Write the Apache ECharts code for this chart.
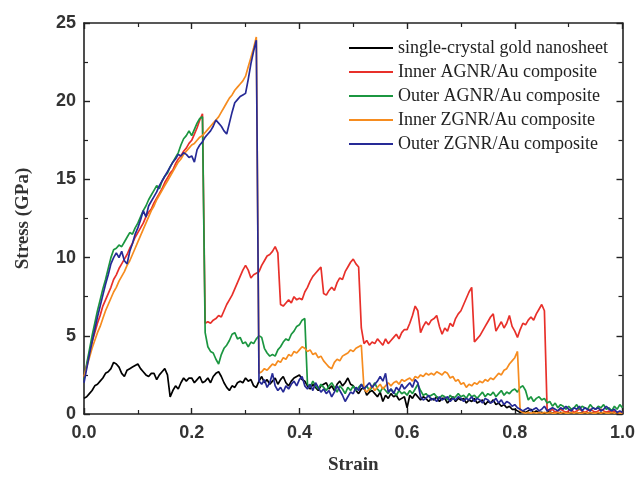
<!DOCTYPE html>
<html>
<head>
<meta charset="utf-8">
<script src="https://cdn.jsdelivr.net/npm/echarts@6/dist/echarts.min.js"></script>
<style>html,body{margin:0;padding:0;background:#fff}#c{width:638px;height:480px}</style>
</head>
<body>
<div id="c"></div>
<script>
const seriesNames = ['single-crystal gold nanosheet','Inner AGNR/Au composite','Outer AGNR/Au composite','Inner ZGNR/Au composite','Outer ZGNR/Au composite'];
const xTicks = [0, 0.2, 0.4, 0.6, 0.8, 1.0];
const yTicks = [0, 5, 10, 15, 20, 25];
const strain = [
0,.005,.01,.015,.02,.025,.03,.035,.04,.045,
.05,.055,.06,.065,.07,.075,.08,.085,.09,.095,
.1,.105,.11,.115,.12,.125,.13,.135,.14,.145,
.15,.155,.16,.165,.17,.175,.18,.185,.19,.195,
.2,.205,.21,.215,.22,.225,.23,.235,.24,.245,
.25,.255,.26,.265,.27,.275,.28,.285,.29,.295,
.3,.305,.31,.315,.32,.325,.33,.335,.34,.345,
.35,.355,.36,.365,.37,.375,.38,.385,.39,.395,
.4,.405,.41,.415,.42,.425,.43,.435,.44,.445,
.45,.455,.46,.465,.47,.475,.48,.485,.49,.495,
.5,.505,.51,.515,.52,.525,.53,.535,.54,.545,
.55,.555,.56,.565,.57,.575,.58,.585,.59,.595,
.6,.605,.61,.615,.62,.625,.63,.635,.64,.645,
.65,.655,.66,.665,.67,.675,.68,.685,.69,.695,
.7,.705,.71,.715,.72,.725,.73,.735,.74,.745,
.75,.755,.76,.765,.77,.775,.78,.785,.79,.795,
.8,.805,.81,.815,.82,.825,.83,.835,.84,.845,
.85,.855,.86,.865,.87,.875,.88,.885,.89,.895,
.9,.905,.91,.915,.92,.925,.93,.935,.94,.945,
.95,.955,.96,.965,.97,.975,.98,.985,.99,.995,
1];
const goldSheet = [
1.0,1.1,1.3,1.5,1.8,1.9,2.1,2.3,2.6,2.7,
2.9,3.3,3.2,3.0,2.6,2.4,2.8,2.9,3.0,3.1,
3.2,2.9,2.7,2.5,2.4,2.6,2.6,2.2,2.5,2.7,
2.9,2.5,1.1,1.5,1.8,1.6,2.0,2.3,2.1,2.3,
2.3,2.0,2.2,2.4,2.0,2.1,2.3,2.0,2.4,2.6,
2.7,2.4,2.0,1.7,1.5,1.8,1.7,2.0,2.1,2.0,
2.3,2.1,2.2,1.8,1.7,2.1,2.4,2.0,2.2,1.9,
2.1,2.3,1.9,2.2,2.4,2.0,1.8,2.1,2.3,2.4,
2.5,2.2,2.1,1.8,1.6,1.9,1.7,1.5,1.8,1.9,
2.0,1.6,1.8,1.5,1.9,2.1,1.8,2.0,2.3,1.9,
1.8,1.5,1.3,1.6,1.7,1.2,1.4,1.5,1.3,1.1,
1.4,0.8,1.2,1.0,1.3,1.1,1.2,0.9,1.0,1.1,
0.4,1.2,1.0,1.3,1.1,0.9,1.1,1.0,0.8,1.0,
0.9,1.1,0.8,1.0,1.0,0.7,0.9,1.1,0.8,1.0,
0.9,1.0,0.7,0.9,0.8,1.0,0.7,0.8,0.9,0.6,
0.8,0.7,0.9,0.6,0.7,0.5,0.6,0.4,0.5,0.3,
0.3,0.2,0.1,0.15,0.1,0.2,0.3,0.1,0.2,0.1,
0.1,0.05,0.1,0.15,0.05,0.1,0.05,0.1,0.05,0.1,
0.05,0.1,0.05,0.1,0.05,0.1,0.05,0.05,0.1,0.05,
0.1,0.05,0.1,0.05,0.1,0.05,0.1,0.05,0.05,0.1,
0.05];
const innerAGNR = [
2.3,3.1,3.9,4.6,5.2,5.8,6.3,6.9,7.3,7.7,
8.1,8.6,8.9,9.3,9.6,9.9,10.2,10.6,10.9,11.3,
11.6,11.9,12.2,12.6,12.9,13.1,13.5,13.8,14.1,14.4,
14.8,15.1,15.4,15.6,16.0,16.3,16.5,16.8,17.0,17.3,
17.5,17.9,18.3,18.8,19.2,5.8,5.9,5.8,6.0,6.1,
6.3,6.2,6.6,7.0,7.3,7.6,8.0,8.4,8.8,9.2,
9.5,9.2,8.7,8.9,9.0,9.1,9.5,9.8,10.1,10.2,
10.4,10.7,10.3,7.0,6.9,7.1,7.3,7.1,7.5,7.3,
7.4,7.3,7.8,8.1,8.5,8.8,9.0,9.2,9.4,7.7,
7.6,7.9,8.1,7.9,8.4,8.7,8.6,9.1,9.4,9.7,
9.9,9.6,9.4,5.5,4.5,4.7,4.4,4.6,4.5,4.8,
4.6,4.4,4.8,4.5,4.7,4.9,5.1,4.8,5.2,5.4,
5.4,5.8,6.3,6.9,6.6,5.2,5.6,5.9,5.7,6.0,
6.1,6.3,5.6,5.1,5.5,5.3,5.8,5.6,6.1,6.4,
6.6,7.0,7.4,7.8,8.1,4.6,4.8,5.0,5.3,5.6,
5.9,6.2,6.4,5.3,5.6,5.9,5.5,5.8,6.3,5.6,
5.3,4.9,5.4,5.8,5.7,6.0,6.2,6.0,6.4,6.7,
7.0,6.6,0.3,0.2,0.3,0.1,0.2,0.3,0.2,0.1,
0.2,0.3,0.1,0.2,0.3,0.2,0.1,0.2,0.3,0.2,
0.1,0.2,0.3,0.2,0.1,0.2,0.1,0.2,0.1,0.1,
0.1];
const outerAGNR = [
2.2,3.2,4.1,5.0,5.8,6.6,7.3,8.0,8.6,9.3,
10.0,10.5,10.6,10.8,10.7,11.0,11.3,11.6,11.5,11.9,
12.2,12.6,13.0,13.3,13.7,14.0,14.3,14.6,14.4,14.9,
15.2,15.4,15.8,16.1,16.4,16.7,17.2,17.6,17.8,18.1,
17.8,18.2,18.6,18.9,19.0,5.2,4.3,4.0,3.9,3.5,
3.2,3.8,4.2,4.4,4.7,5.1,5.2,4.8,4.9,4.5,
4.6,4.3,4.6,4.5,4.8,5.0,4.9,4.2,3.9,3.7,
3.8,3.7,4.1,4.3,4.6,4.8,4.7,5.1,5.3,5.6,
5.7,6.0,6.1,1.9,1.7,2.1,1.8,1.6,1.9,1.7,
1.5,1.8,2.0,1.7,1.4,1.8,1.6,1.3,1.7,1.5,
1.8,1.5,1.7,1.9,1.6,1.8,1.5,1.7,2.0,1.6,
1.4,1.7,1.5,1.3,1.6,1.4,1.2,1.5,1.3,1.4,
1.2,1.5,1.3,1.6,1.9,1.5,1.2,1.3,1.1,1.2,
1.3,1.1,1.0,1.2,1.1,0.9,1.2,1.0,1.1,1.3,
1.1,1.2,1.0,1.3,1.1,1.2,1.0,1.2,1.4,1.1,
1.3,1.2,1.4,1.1,1.3,1.5,1.2,1.4,1.3,1.5,
1.6,1.4,1.7,1.8,1.5,0.9,1.1,0.8,1.0,1.1,
0.9,1.0,0.7,0.8,0.5,0.7,0.4,0.6,0.5,0.3,
0.5,0.3,0.4,0.6,0.3,0.5,0.4,0.3,0.6,0.4,
0.3,0.5,0.4,0.6,0.3,0.4,0.2,0.5,0.3,0.6,
0.4];
const innerZGNR = [
2.4,3.0,3.6,4.2,4.7,5.2,5.6,6.1,6.6,7.0,
7.4,7.8,8.1,8.5,8.8,9.1,9.5,9.8,10.2,10.6,
11.0,11.4,11.8,12.2,12.6,13.0,13.3,13.7,14.0,14.3,
14.6,14.9,15.2,15.5,15.8,16.1,16.3,16.6,16.8,17.0,
17.2,17.3,17.5,17.7,17.8,18.0,18.2,18.4,18.6,18.8,
19.0,19.3,19.6,19.9,20.2,20.4,20.7,20.9,21.1,21.3,
21.6,22.2,22.8,23.4,24.1,2.6,2.7,2.9,2.8,3.0,
3.2,3.1,3.4,3.3,3.6,3.5,3.8,3.7,4.0,3.9,
4.1,4.3,4.2,4.0,4.1,3.8,3.9,3.6,3.7,3.4,
3.2,3.0,2.9,3.3,3.5,3.4,3.7,3.8,3.9,4.1,
4.0,4.2,4.3,4.4,1.6,1.4,1.6,1.8,1.5,1.7,
1.9,1.6,1.8,2.0,1.8,2.0,2.1,1.9,2.2,2.1,
2.2,2.3,2.1,2.4,2.3,2.5,2.4,2.6,2.5,2.6,
2.5,2.7,2.6,2.5,2.7,2.6,2.3,2.4,2.1,2.2,
1.9,2.0,1.7,1.9,1.8,2.0,1.9,2.1,2.0,2.2,
2.1,2.3,2.2,2.4,2.6,2.5,2.8,2.9,3.2,3.4,
3.6,4.0,0.2,0.1,0.05,0.1,0.05,0.1,0.05,0.1,
0.05,0.1,0.05,0.1,0.05,0.05,0.1,0.05,0.1,0.05,
0.05,0.1,0.05,0.1,0.05,0.05,0.1,0.05,0.1,0.05,
0.05,0.1,0.05,0.1,0.05,0.05,0.1,0.05,0.1,0.05,
0.05];
const outerZGNR = [
2.0,2.9,3.8,4.6,5.4,6.2,6.9,7.6,8.3,8.9,
9.6,10.0,10.3,10.0,10.4,9.8,9.6,10.4,10.9,11.5,
11.9,12.4,13.0,12.6,13.3,13.6,13.9,14.2,14.6,14.9,
15.2,15.5,15.8,16.1,16.3,16.6,16.5,16.7,16.6,16.4,
16.5,16.1,16.9,17.2,17.4,17.7,17.9,18.1,18.4,18.8,
18.6,18.4,18.1,17.9,18.6,19.3,19.9,20.1,20.3,20.4,
20.5,21.4,22.4,23.2,23.9,2.1,1.9,2.2,1.7,2.0,
2.6,1.8,1.5,1.7,1.4,1.8,1.6,1.9,2.1,1.8,
2.2,2.4,1.8,1.6,1.9,1.5,2.0,1.7,1.4,1.6,
1.3,1.5,1.1,1.4,1.8,1.5,1.2,0.8,1.1,1.4,
1.3,1.7,1.5,1.9,1.6,1.8,2.0,1.7,1.9,2.1,
2.4,2.1,2.6,1.4,1.6,1.3,1.7,1.5,1.9,1.6,
1.8,2.0,1.7,2.2,2.0,1.1,0.9,1.0,1.2,0.9,
1.0,0.8,1.1,0.9,1.0,1.1,0.8,1.0,0.9,1.1,
1.0,0.8,1.0,0.9,1.1,0.8,1.0,0.9,0.7,1.0,
0.9,0.7,0.8,1.0,0.7,0.9,0.6,0.8,0.7,0.5,
0.6,0.4,0.3,0.2,0.3,0.4,0.2,0.3,0.4,0.2,
0.3,0.5,0.2,0.3,0.4,0.3,0.2,0.4,0.3,0.5,
0.3,0.2,0.4,0.3,0.5,0.2,0.4,0.3,0.2,0.4,
0.3,0.4,0.2,0.3,0.5,0.3,0.2,0.3,0.1,0.2,
0.1];

const allValues = [goldSheet, innerAGNR, outerAGNR, innerZGNR, outerZGNR];
const colors = ['#000000', '#e8302a', '#1b9640', '#f68c1f', '#262a96'];

const chart = echarts.init(document.getElementById('c'), null, {renderer: 'canvas'});
const axisColor = '#222';
const labelFont = {fontFamily: 'Liberation Sans', fontWeight: 'bold', fontSize: 18, color: '#333'};
function mkX(pos, showLabel) {
  return {
    type: 'value', position: pos, min: xTicks[0], max: xTicks[xTicks.length - 1], interval: 0.2,
    axisLine: {onZero: false, lineStyle: {color: axisColor, width: 1.6}},
    axisTick: {inside: true, length: 6, lineStyle: {color: axisColor, width: 1.4}},
    minorTick: {show: true, splitNumber: 2, length: 4, lineStyle: {color: axisColor, width: 1.2}},
    splitLine: {show: false},
    axisLabel: Object.assign({show: showLabel, margin: 10, formatter: v => v.toFixed(1)}, labelFont),
    name: showLabel ? 'Strain' : '', nameLocation: 'middle', nameGap: 42,
    nameTextStyle: {fontFamily: 'Liberation Serif', fontWeight: 'bold', fontSize: 19, color: '#333'}
  };
}
function mkY(pos, showLabel) {
  return {
    type: 'value', position: pos, min: yTicks[0], max: yTicks[yTicks.length - 1], interval: 5,
    axisLine: {show: true, onZero: false, lineStyle: {color: axisColor, width: 1.6}},
    axisTick: {show: true, inside: true, length: 6, lineStyle: {color: axisColor, width: 1.4}},
    minorTick: {show: true, splitNumber: 2, length: 4, lineStyle: {color: axisColor, width: 1.2}},
    splitLine: {show: false},
    axisLabel: Object.assign({show: showLabel, margin: 8}, labelFont),
    name: showLabel ? 'Stress (GPa)' : '', nameLocation: 'middle', nameGap: 51,
    nameTextStyle: {fontFamily: 'Liberation Serif', fontWeight: 'bold', fontSize: 19, color: '#333'}
  };
}
chart.setOption({
  animation: false,
  backgroundColor: '#fff',
  grid: {left: 84, right: 14, top: 23, bottom: 62},
  xAxis: [mkX('bottom', true), mkX('top', false)],
  yAxis: [mkY('left', true), mkY('right', false)],
  legend: {
    orient: 'vertical', left: 344, top: 34, icon: 'rect', itemWidth: 44, itemHeight: 2, itemGap: 6,
    textStyle: {fontFamily: 'Liberation Serif', fontSize: 18, lineHeight: 18, color: '#222'},
    data: seriesNames
  },
  series: seriesNames.map((n, k) => ({
    name: n, type: 'line', xAxisIndex: 0, yAxisIndex: 0, showSymbol: false, symbol: 'none',
    color: colors[k], lineStyle: {width: 1.7, color: colors[k]},
    data: strain.map((x, i) => [x, allValues[k][i]])
  }))
});
</script>
</body>
</html>
